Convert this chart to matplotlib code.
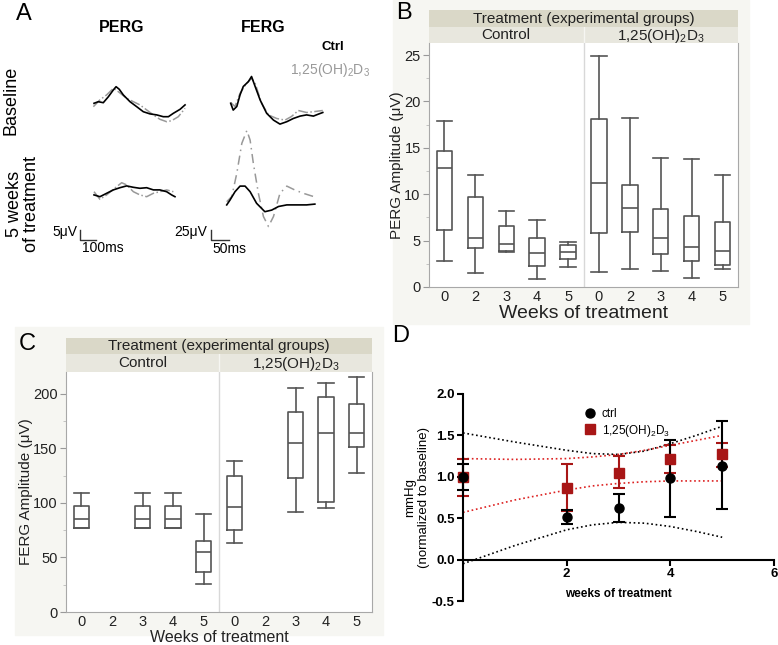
import matplotlib
matplotlib.use('Agg')
import matplotlib.pyplot as plt
from matplotlib.patches import Rectangle
from matplotlib.ticker import MultipleLocator
from matplotlib.lines import Line2D

plt.rcParams['font.family'] = ['Liberation Sans', 'DejaVu Sans']
plt.rcParams['mathtext.fontset'] = 'custom'
plt.rcParams['mathtext.rm'] = 'Liberation Sans'
plt.rcParams['mathtext.default'] = 'regular'

W, H = 778, 645
VD3 = '1,25(OH)$_2$D$_3$'

# ---- panel A: example traces (time ms, amplitude uV) ----
perg_base_t_ctrl = [0, 27, 58, 90, 121, 138, 158, 183, 225, 267, 308, 350, 392, 433, 465, 496, 538, 569]
perg_base_v_ctrl = [0, 0.8, 0.3, 3.3, 6.7, 8.3, 7.0, 4.2, 0.8, -1.7, -4.2, -5.3, -5.8, -6.7, -6.7, -5.0, -3.0, -0.8]
perg_base_t_vd = [-4, 37, 79, 121, 152, 204, 246, 287, 329, 371, 412, 454, 485, 527, 569]
perg_base_v_vd = [-1.7, 1.7, 4.2, 7.5, 5.8, 2.5, 0.8, -0.8, -3.3, -5.8, -8.0, -9.2, -8.7, -6.7, -2.5]
perg_5w_t_ctrl = [0, 37, 79, 121, 162, 204, 246, 287, 329, 371, 412, 454, 485, 506]
perg_5w_v_ctrl = [-0.8, -1.7, 0, 1.7, 2.8, 3.7, 3.0, 2.5, 2.8, 1.7, 1.7, 0.8, -0.8, -1.7]
perg_5w_t_vd = [0, 37, 79, 121, 173, 204, 246, 287, 329, 371, 412, 454, 496]
perg_5w_v_vd = [0.8, -3.0, -0.8, 2.0, 5.3, 4.2, 0.8, -0.8, -1.7, 0, 0.8, 1.7, 0.8]

ferg_base_t_ctrl = [0, 7, 17, 26, 35, 49, 58, 68, 82, 100, 119, 137, 156, 174, 193, 211, 230, 244, 256]
ferg_base_v_ctrl = [0, -17, -8, 21, 42, 54, 67, 42, 8, -25, -42, -52, -46, -38, -32, -29, -32, -27, -23]
ferg_base_t_vd = [0, 12, 26, 44, 58, 68, 86, 105, 128, 151, 169, 188, 211, 230, 256]
ferg_base_v_vd = [2, -8, 25, 50, 62, 50, 0, -29, -38, -42, -33, -18, -23, -21, -18]
ferg_5w_t_ctrl = [0, 9, 23, 37, 51, 65, 83, 106, 125, 144, 167, 194, 222, 245]
ferg_5w_v_ctrl = [-4, 8, 29, 43, 43, 29, 0, -21, -17, -8, -4, -4, -4, -2]
ferg_5w_t_vd = [0, 14, 28, 42, 56, 65, 74, 88, 102, 116, 130, 148, 167, 190, 213, 241]
ferg_5w_v_vd = [4, 17, 75, 150, 182, 158, 100, 25, -33, -58, -33, 25, 43, 33, 25, 17]

# ---- panels B and C: box plots (whisker low, Q1, median, Q3, whisker high) ----
week_labels = ['0', '2', '3', '4', '5', '0', '2', '3', '4', '5']
perg_lo = [2.8, 1.5, 3.8, 0.9, 2.2, 1.6, 1.9, 1.7, 1.0, 1.9]
perg_q1 = [6.1, 4.2, 3.9, 2.3, 3.0, 5.8, 5.9, 3.6, 2.8, 2.4]
perg_med = [12.8, 5.3, 4.6, 3.7, 3.8, 11.2, 8.5, 5.3, 4.3, 3.9]
perg_q3 = [14.7, 9.7, 6.6, 5.3, 4.5, 18.1, 11.0, 8.4, 7.6, 7.0]
perg_hi = [17.9, 12.1, 8.2, 7.2, 4.8, 24.9, 18.2, 13.9, 13.8, 12.1]

ferg_lo = [77, None, 77, 77, 26, 63, None, 92, 95, 127]
ferg_q1 = [77, None, 77, 77, 37, 75, None, 123, 101, 151]
ferg_med = [85, None, 85, 85, 55, 96, None, 155, 164, 164]
ferg_q3 = [97, None, 97, 97, 65, 125, None, 183, 197, 191]
ferg_hi = [109, None, 109, 109, 90, 138, None, 205, 210, 215]

# ---- panel D ----
weeks = [0, 2, 3, 4, 5]
ctrl_mean = [1.0, 0.51, 0.62, 0.98, 1.13]
ctrl_lo = [0.84, 0.43, 0.45, 0.52, 0.61]
ctrl_hi = [1.16, 0.60, 0.79, 1.45, 1.67]
vd_mean = [1.0, 0.86, 1.05, 1.22, 1.27]
vd_lo = [0.77, 0.59, 0.86, 1.05, 1.12]
vd_hi = [1.22, 1.15, 1.25, 1.38, 1.41]
band_x = [0, 1, 2, 2.5, 3, 3.5, 4, 4.5, 5]
ctrl_band_up = [1.53, 1.42, 1.32, 1.28, 1.27, 1.31, 1.40, 1.50, 1.61]
ctrl_band_dn = [-0.05, 0.17, 0.36, 0.42, 0.45, 0.44, 0.40, 0.34, 0.27]
vd_band_up = [1.22, 1.21, 1.22, 1.24, 1.27, 1.32, 1.38, 1.44, 1.50]
vd_band_dn = [0.57, 0.72, 0.84, 0.89, 0.92, 0.94, 0.95, 0.95, 0.95]

fig = plt.figure(figsize=(7.78, 6.45), dpi=100)


def frac(x0, y0, x1, y1):
    return [x0 / W, 1 - y1 / H, (x1 - x0) / W, (y1 - y0) / H]


def ftext(x, y, s, **kw):
    fig.text(x / W, 1 - y / H, s, **kw)


# panel backgrounds
for x0, y0, x1, y1 in [(393, 0, 749, 324), (15, 327, 383, 635)]:
    fig.add_artist(Rectangle((x0 / W, 1 - y1 / H), (x1 - x0) / W, (y1 - y0) / H,
                             transform=fig.transFigure, color='#f6f6f2', zorder=0))

# ================= A =================
gray = '#999999'
axp = fig.add_axes(frac(60, 60, 200, 260))
axp.set_xlim(-212.5, 662.5)
axp.set_ylim(-78.35, 21.65)
axp.axis('off')
axp.plot(perg_base_t_vd, perg_base_v_vd, color=gray, ls='-.', lw=1.1)
axp.plot(perg_base_t_ctrl, perg_base_v_ctrl, color='black', lw=1.2)
axp.plot(perg_5w_t_vd, [v - 45 for v in perg_5w_v_vd], color=gray, ls='-.', lw=1.1)
axp.plot(perg_5w_t_ctrl, [v - 45 for v in perg_5w_v_ctrl], color='black', lw=1.2)
axp.plot([-87.5, -87.5, 12.5], [-63.35, -68.35, -68.35], color='#333333', lw=1)

axf = fig.add_axes(frac(200, 60, 340, 260))
axf.set_xlim(-85.3, 303.9)
axf.set_ylim(-391.75, 108.25)
axf.axis('off')
axf.plot(ferg_base_t_vd, ferg_base_v_vd, color=gray, ls='-.', lw=1.1)
axf.plot(ferg_base_t_ctrl, ferg_base_v_ctrl, color='black', lw=1.2)
axf.plot([t - 11 for t in ferg_5w_t_vd], [v - 250 for v in ferg_5w_v_vd], color=gray, ls=(0, (6, 3, 1, 3)), lw=1.1)
axf.plot([t - 11 for t in ferg_5w_t_ctrl], [v - 250 for v in ferg_5w_v_ctrl], color='black', lw=1.2)
axf.plot([-54.8, -54.8, -4.8], [-316.75, -341.75, -341.75], color='#333333', lw=1)

ftext(24, 14, 'A', fontsize=17, ha='center', va='center')
ftext(122, 28, 'PERG', fontsize=11.5, fontweight='bold', ha='center', va='center')
ftext(263, 27, 'FERG', fontsize=11.5, fontweight='bold', ha='center', va='center')
ftext(333, 47, 'Ctrl', fontsize=9.5, fontweight='bold', ha='center', va='center')
ftext(330, 70, VD3, fontsize=10, color=gray, ha='center', va='center')
ftext(11, 100, 'Baseline', fontsize=13, rotation=90, ha='center', va='center')
ftext(23, 204, '5 weeks\nof treatment', fontsize=13, rotation=90, ha='center', va='center',
      multialignment='center', linespacing=0.95)
ftext(77, 232, '5\u03bcV', fontsize=10, ha='right', va='center')
ftext(82, 248, '100ms', fontsize=10, ha='left', va='center')
ftext(207, 232, '25\u03bcV', fontsize=10, ha='right', va='center')
ftext(212, 249, '50ms', fontsize=10, ha='left', va='center')


# ================= B and C =================
def box_panel(x0, x1, yb1, yb2, ytop, ybot, lo, q1, med, q3, hi, ylim, major, minor,
              ylabel, xlsize, lpad):
    band1 = fig.add_axes(frac(x0, yb1, x1, yb2))
    band1.set_facecolor('#dad8c8')
    band1.set_xticks([])
    band1.set_yticks([])
    for s in band1.spines.values():
        s.set_visible(False)
    band1.text(0.5, 0.5, 'Treatment (experimental groups)', fontsize=11, ha='center',
               va='center', transform=band1.transAxes, color='#222222')
    band2 = fig.add_axes(frac(x0, yb2, x1, ytop))
    band2.set_facecolor('#e8e7de')
    band2.set_xticks([])
    band2.set_yticks([])
    for s in band2.spines.values():
        s.set_visible(False)
    band2.axvline(0.5, color='#f6f6f2', lw=1)
    band2.text(0.25, 0.5, 'Control', fontsize=11, ha='center', va='center',
               transform=band2.transAxes, color='#222222')
    band2.text(0.75, 0.45, VD3, fontsize=11, ha='center', va='center',
               transform=band2.transAxes, color='#222222')

    ax = fig.add_axes(frac(x0, ytop, x1, ybot))
    stats, pos = [], []
    for i in range(len(med)):
        if med[i] is None:
            continue
        stats.append(dict(whislo=lo[i], q1=q1[i], med=med[i], q3=q3[i], whishi=hi[i], fliers=[]))
        pos.append(i)
    lp = dict(color='#555555', lw=1.2)
    ax.bxp(stats, positions=pos, widths=0.5, capwidths=0.5, showfliers=False,
           boxprops=lp, medianprops=lp, whiskerprops=lp, capprops=lp)
    ax.axvline(4.5, color='#d8d8d8', lw=1, zorder=0)
    ax.set_xlim(-0.5, 9.5)
    ax.set_ylim(*ylim)
    ax.set_xticks(range(10))
    ax.set_xticklabels(week_labels)
    ax.yaxis.set_major_locator(MultipleLocator(major))
    ax.yaxis.set_minor_locator(MultipleLocator(minor))
    ax.tick_params(axis='x', length=0, labelsize=10.5, pad=2, labelcolor='#222222')
    ax.tick_params(axis='y', which='major', length=4, color='#999999', labelsize=10.5,
                   labelcolor='#222222', pad=2)
    ax.tick_params(axis='y', which='minor', length=2, color='#bbbbbb')
    ax.spines['top'].set_visible(False)
    for s in ['left', 'bottom', 'right']:
        ax.spines[s].set_color('#a8a8a8')
    ax.set_ylabel(ylabel, fontsize=11, labelpad=lpad, color='#222222')
    ax.set_xlabel('Weeks of treatment', fontsize=xlsize, labelpad=1, color='#222222')
    return ax


box_panel(429, 738, 10, 27, 43, 287, perg_lo, perg_q1, perg_med, perg_q3, perg_hi,
          (0, 26.3), 5, 2.5, 'PERG Amplitude (\u03bcV)', 14, 0)
ftext(404, 13, 'B', fontsize=17, ha='center', va='center')

box_panel(66, 372, 338, 354, 372, 612, ferg_lo, ferg_q1, ferg_med, ferg_q3, ferg_hi,
          (0, 220), 50, 25, 'FERG Amplitude (\u03bcV)', 11.5, 0)
ftext(27, 344, 'C', fontsize=17, ha='center', va='center')

# ================= D =================
red = '#a81616'
axd = fig.add_axes(frac(463, 394, 774, 601))
axd.plot(band_x, ctrl_band_up, color='black', ls=':', lw=1.2)
axd.plot(band_x, ctrl_band_dn, color='black', ls=':', lw=1.2)
axd.plot(band_x, vd_band_up, color='#dd2222', ls=':', lw=1.2)
axd.plot(band_x, vd_band_dn, color='#dd2222', ls=':', lw=1.2)
axd.errorbar(weeks, vd_mean,
             yerr=[[m - l for m, l in zip(vd_mean, vd_lo)], [h - m for m, h in zip(vd_mean, vd_hi)]],
             fmt='s', color=red, ms=6.5, capsize=4.5, elinewidth=1.5, capthick=1.5, clip_on=False)
axd.errorbar(weeks, ctrl_mean,
             yerr=[[m - l for m, l in zip(ctrl_mean, ctrl_lo)], [h - m for m, h in zip(ctrl_mean, ctrl_hi)]],
             fmt='o', color='black', ms=6.5, capsize=4.5, elinewidth=1.5, capthick=1.5, clip_on=False)
axd.set_xlim(0, 6)
axd.set_ylim(-0.5, 2.0)
axd.spines['top'].set_visible(False)
axd.spines['right'].set_visible(False)
axd.spines['bottom'].set_position(('data', 0))
axd.spines['left'].set_linewidth(1.5)
axd.spines['bottom'].set_linewidth(1.5)
axd.set_xticks([2, 4, 6])
axd.set_yticks([-0.5, 0.0, 0.5, 1.0, 1.5, 2.0])
axd.yaxis.set_major_formatter(matplotlib.ticker.FormatStrFormatter('%.1f'))
axd.tick_params(width=1.5, length=4, labelsize=9.5, pad=2)
for lab in axd.get_xticklabels() + axd.get_yticklabels():
    lab.set_fontweight('bold')
axd.set_xlabel('weeks of treatment', fontsize=8.5, fontweight='bold', labelpad=6)
axd.set_ylabel('mmHg\n(normalized to baseline)', fontsize=9.5, labelpad=1)
handles = [Line2D([], [], marker='o', color='black', ls='', ms=6.5),
           Line2D([], [], marker='s', color=red, ls='', ms=6.5)]
axd.legend(handles, ['ctrl', VD3], loc='upper left', bbox_to_anchor=(0.37, 0.96),
           frameon=False, fontsize=8.5, handlelength=1, handletextpad=0.5,
           labelspacing=0.2, borderpad=0)
ftext(401, 336, 'D', fontsize=17, ha='center', va='center')

fig.savefig('out.png', dpi=100)
